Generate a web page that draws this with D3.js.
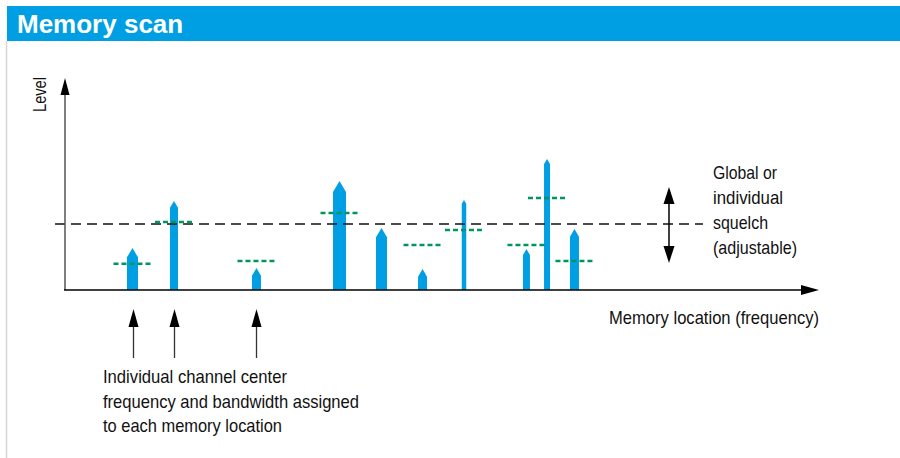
<!DOCTYPE html>
<html>
<head>
<meta charset="utf-8">
<script src="https://cdn.jsdelivr.net/npm/d3@7"></script>
<style>
  html, body { margin: 0; padding: 0; background: #fff; }
  svg { display: block; }
  .narrow { font-family: "Liberation Sans Narrow", "Arial Narrow", "Liberation Sans", sans-serif; font-stretch: condensed; }
</style>
</head>
<body>
<svg id="chart" width="900" height="458"></svg>
<script>
// ---- data ----
const title = "Memory scan";
const channelPos       = [9.0, 14.53, 25.53, 36.6, 42.2, 47.67, 53.2, 61.53, 64.27, 67.93];
const channelLevel     = [21, 44.5, 11, 54.5, 31, 10.5, 45, 20.5, 65.5, 30.5];
const channelBandwidth = [1.47, 1.07, 1.2, 1.73, 1.47, 1.2, 0.6, 0.93, 0.8, 1.2];
const channelSquelch   = [13.15, 34, 14.5, 38.5, null, 22.5, 30, 22.5, 46, 14.5];
const squelchSpan = 5.07;
const globalSquelch = 33;
const labeledChannels = [0, 1, 2];
const yLabel = "Level";
const xLabel = "Memory location (frequency)";
const squelchText = ["Global or", "individual", "squelch", "(adjustable)"];
const channelText = ["Individual channel center", "frequency and bandwidth assigned", "to each memory location"];

// ---- layout ----
const svg = d3.select("#chart");
const x = d3.scaleLinear().domain([0, 100]).range([65, 815]);
const y = d3.scaleLinear().domain([0, 106]).range([290, 78]);
const blue = "#009fe3";
const green = "#00975f";

// frame + title bar
svg.append("line").attr("x1", 6.5).attr("x2", 6.5).attr("y1", 41).attr("y2", 458)
  .attr("stroke", "#d6d6d6").attr("stroke-width", 1.5);
svg.append("rect").attr("x", 7).attr("y", 6).attr("width", 893).attr("height", 35).attr("fill", blue);
svg.append("text").attr("x", 17).attr("y", 33).text(title)
  .attr("fill", "#fff").attr("font-family", "'Liberation Sans', Arial, sans-serif")
  .attr("font-weight", "bold").attr("font-size", 26);

const g = svg.append("g");

// bars (channels)
const bars = channelPos.map((p, i) => ({p, level: channelLevel[i], bw: channelBandwidth[i]}));
g.selectAll("path.bar").data(bars).join("path").attr("class", "bar")
  .attr("fill", blue)
  .attr("d", d => {
    const cx = x(d.p);
    const hw = (x(d.bw) - x(0)) / 2;
    const tip = y(d.level);
    const th = hw * 1.7;
    const base = y(0);
    return `M${cx - hw},${base}L${cx - hw},${tip + th}L${cx},${tip}L${cx + hw},${tip + th}L${cx + hw},${base}Z`;
  });

// global squelch
g.append("line").attr("x1", 55).attr("x2", 703)
  .attr("y1", y(globalSquelch)).attr("y2", y(globalSquelch))
  .attr("stroke", "#111").attr("stroke-width", 1.4).attr("stroke-dasharray", "10,6");

// individual squelch
const sq = channelPos.map((p, i) => ({p, s: channelSquelch[i]})).filter(d => d.s !== null);
g.selectAll("line.sq").data(sq).join("line").attr("class", "sq")
  .attr("x1", d => x(d.p - squelchSpan / 2)).attr("x2", d => x(d.p + squelchSpan / 2))
  .attr("y1", d => y(d.s)).attr("y2", d => y(d.s))
  .attr("stroke", green).attr("stroke-width", 2.6).attr("stroke-dasharray", "5,3");

// axes
const y0 = y(0);
g.append("line").attr("x1", 65).attr("x2", 65).attr("y1", y0).attr("y2", 92)
  .attr("stroke", "#555").attr("stroke-width", 1.5);
g.append("path").attr("d", `M65,78L60.5,95L69.5,95Z`).attr("fill", "#000");
g.append("line").attr("x1", 64).attr("x2", 803).attr("y1", y0).attr("y2", y0)
  .attr("stroke", "#000").attr("stroke-width", 1.6);
g.append("path").attr("d", `M819,${y0}L801,${y0 - 5}L801,${y0 + 5}Z`).attr("fill", "#000");

// squelch double arrow
const ax = 669;
g.append("line").attr("x1", ax).attr("x2", ax).attr("y1", 200).attr("y2", 250)
  .attr("stroke", "#000").attr("stroke-width", 1.5);
g.append("path").attr("d", `M${ax},187L${ax - 5.5},204L${ax + 5.5},204Z`).attr("fill", "#000");
g.append("path").attr("d", `M${ax},263L${ax - 5.5},246L${ax + 5.5},246Z`).attr("fill", "#000");

// channel pointer arrows
labeledChannels.forEach(i => {
  const cx = Math.round(x(channelPos[i])) + 0.5;
  g.append("line").attr("x1", cx).attr("x2", cx).attr("y1", 358).attr("y2", 322)
    .attr("stroke", "#333").attr("stroke-width", 1.3);
  g.append("path").attr("d", `M${cx},309L${cx - 5},327L${cx + 5},327Z`).attr("fill", "#000");
});

// labels
g.append("text").attr("class", "narrow").attr("transform", "translate(46,77) rotate(-90)")
  .attr("text-anchor", "end").attr("font-size", 19).attr("fill", "#111")
  .attr("textLength", 35).attr("lengthAdjust", "spacingAndGlyphs").text(yLabel);
g.append("text").attr("class", "narrow").attr("x", 609).attr("y", 324)
  .attr("font-size", 19).attr("fill", "#111").attr("textLength", 210)
  .attr("lengthAdjust", "spacingAndGlyphs").text(xLabel);

const sqW = [64, 70, 55, 84];
squelchText.forEach((t, i) => {
  g.append("text").attr("class", "narrow").attr("x", 713).attr("y", 179 + i * 25)
    .attr("font-size", 18.5).attr("fill", "#111")
    .attr("textLength", sqW[i]).attr("lengthAdjust", "spacingAndGlyphs").text(t);
});
const chW = [184, 256, 179];
channelText.forEach((t, i) => {
  g.append("text").attr("class", "narrow").attr("x", 103).attr("y", 383 + i * 24.5)
    .attr("font-size", 18.5).attr("fill", "#111")
    .attr("textLength", chW[i]).attr("lengthAdjust", "spacingAndGlyphs").text(t);
});
</script>
</body>
</html>
